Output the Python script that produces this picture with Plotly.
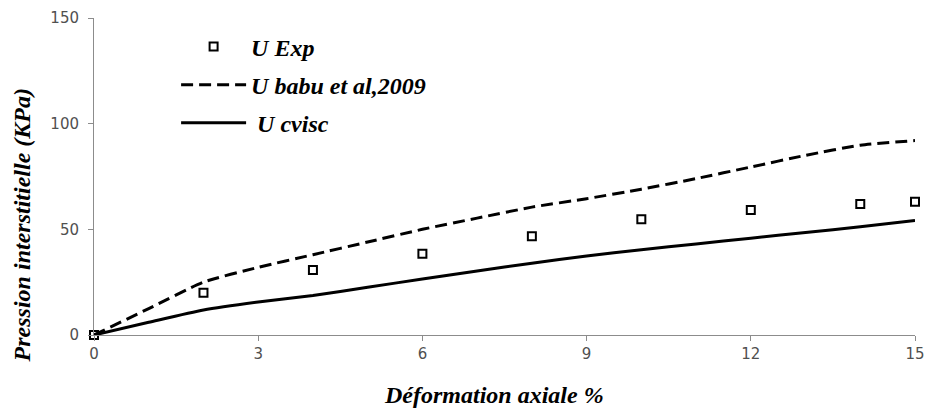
import plotly.graph_objects as go

# Data
x_exp = [0, 2, 4, 6, 8, 10, 12, 14, 15]
u_exp = [0, 20, 30.7, 38.5, 46.7, 54.8, 59.2, 62, 63]

x_model = [0, 1, 2, 3, 4, 5, 6, 7, 8, 9, 10, 11, 12, 13, 14, 15]
u_babu = [0, 12.5, 25, 32, 38, 44, 50, 55.3, 60.5, 64.5, 69, 74, 79.5, 85, 89.8, 92]
u_cvisc = [0, 6, 11.8, 15.6, 18.7, 22.6, 26.5, 30.3, 34, 37.4, 40.3, 43.1, 45.8, 48.5, 51.2, 54.2]

x_ticks = [0, 3, 6, 9, 12, 15]
y_ticks = [0, 50, 100, 150]

x_title = "Déformation axiale %"
y_title = "Pression interstitielle (KPa)"

serif = "Liberation Serif, Times New Roman, serif"
title_font = dict(family=serif, size=24, color="black", weight="bold", style="italic")

fig = go.Figure()
fig.add_trace(go.Scatter(
    x=x_exp, y=u_exp, mode="markers", name="U Exp",
    marker=dict(symbol="square-open", size=8, color="black", line=dict(width=2, color="black")),
    cliponaxis=False, legendgroup="a"))
fig.add_trace(go.Scatter(
    x=x_model, y=u_babu, mode="lines", name="U babu et al,2009",
    line=dict(color="black", width=3, dash="12px,6px", shape="spline", smoothing=0.6),
    legendgroup="b"))
fig.add_trace(go.Scatter(
    x=x_model, y=u_cvisc, mode="lines", name=" U cvisc",
    line=dict(color="black", width=3, shape="spline", smoothing=0.6),
    legendgroup="c"))

axis_common = dict(showgrid=False, zeroline=False, showline=True, linecolor="#8c8c8c",
                   linewidth=1, ticks="outside", ticklen=5, tickcolor="#8c8c8c",
                   automargin=False,
                   tickfont=dict(family="DejaVu Sans, sans-serif", size=15, color="#505050"))

fig.update_layout(
    width=928, height=409,
    margin=dict(l=94, r=13, t=18, b=74),
    paper_bgcolor="white", plot_bgcolor="white",
    showlegend=True,
    legend=dict(x=0.1, y=0.98, xanchor="left", yanchor="top",
                font=title_font,
                bgcolor="rgba(0,0,0,0)", itemwidth=65, tracegroupgap=4),
    xaxis=dict(range=[0, 15], tickvals=x_ticks, **axis_common),
    yaxis=dict(range=[0, 150], tickvals=y_ticks, ticklabelstandoff=6, **axis_common),
    annotations=[
        dict(text=x_title, xref="paper", yref="paper", x=0.487, y=-0.19,
             xanchor="center", yanchor="middle", showarrow=False, font=title_font),
        dict(text=y_title, xref="paper", yref="paper", x=-0.088, y=0.345,
             xanchor="center", yanchor="middle", showarrow=False, textangle=-90,
             font=title_font),
    ],
)

fig.write_html("out.html")
